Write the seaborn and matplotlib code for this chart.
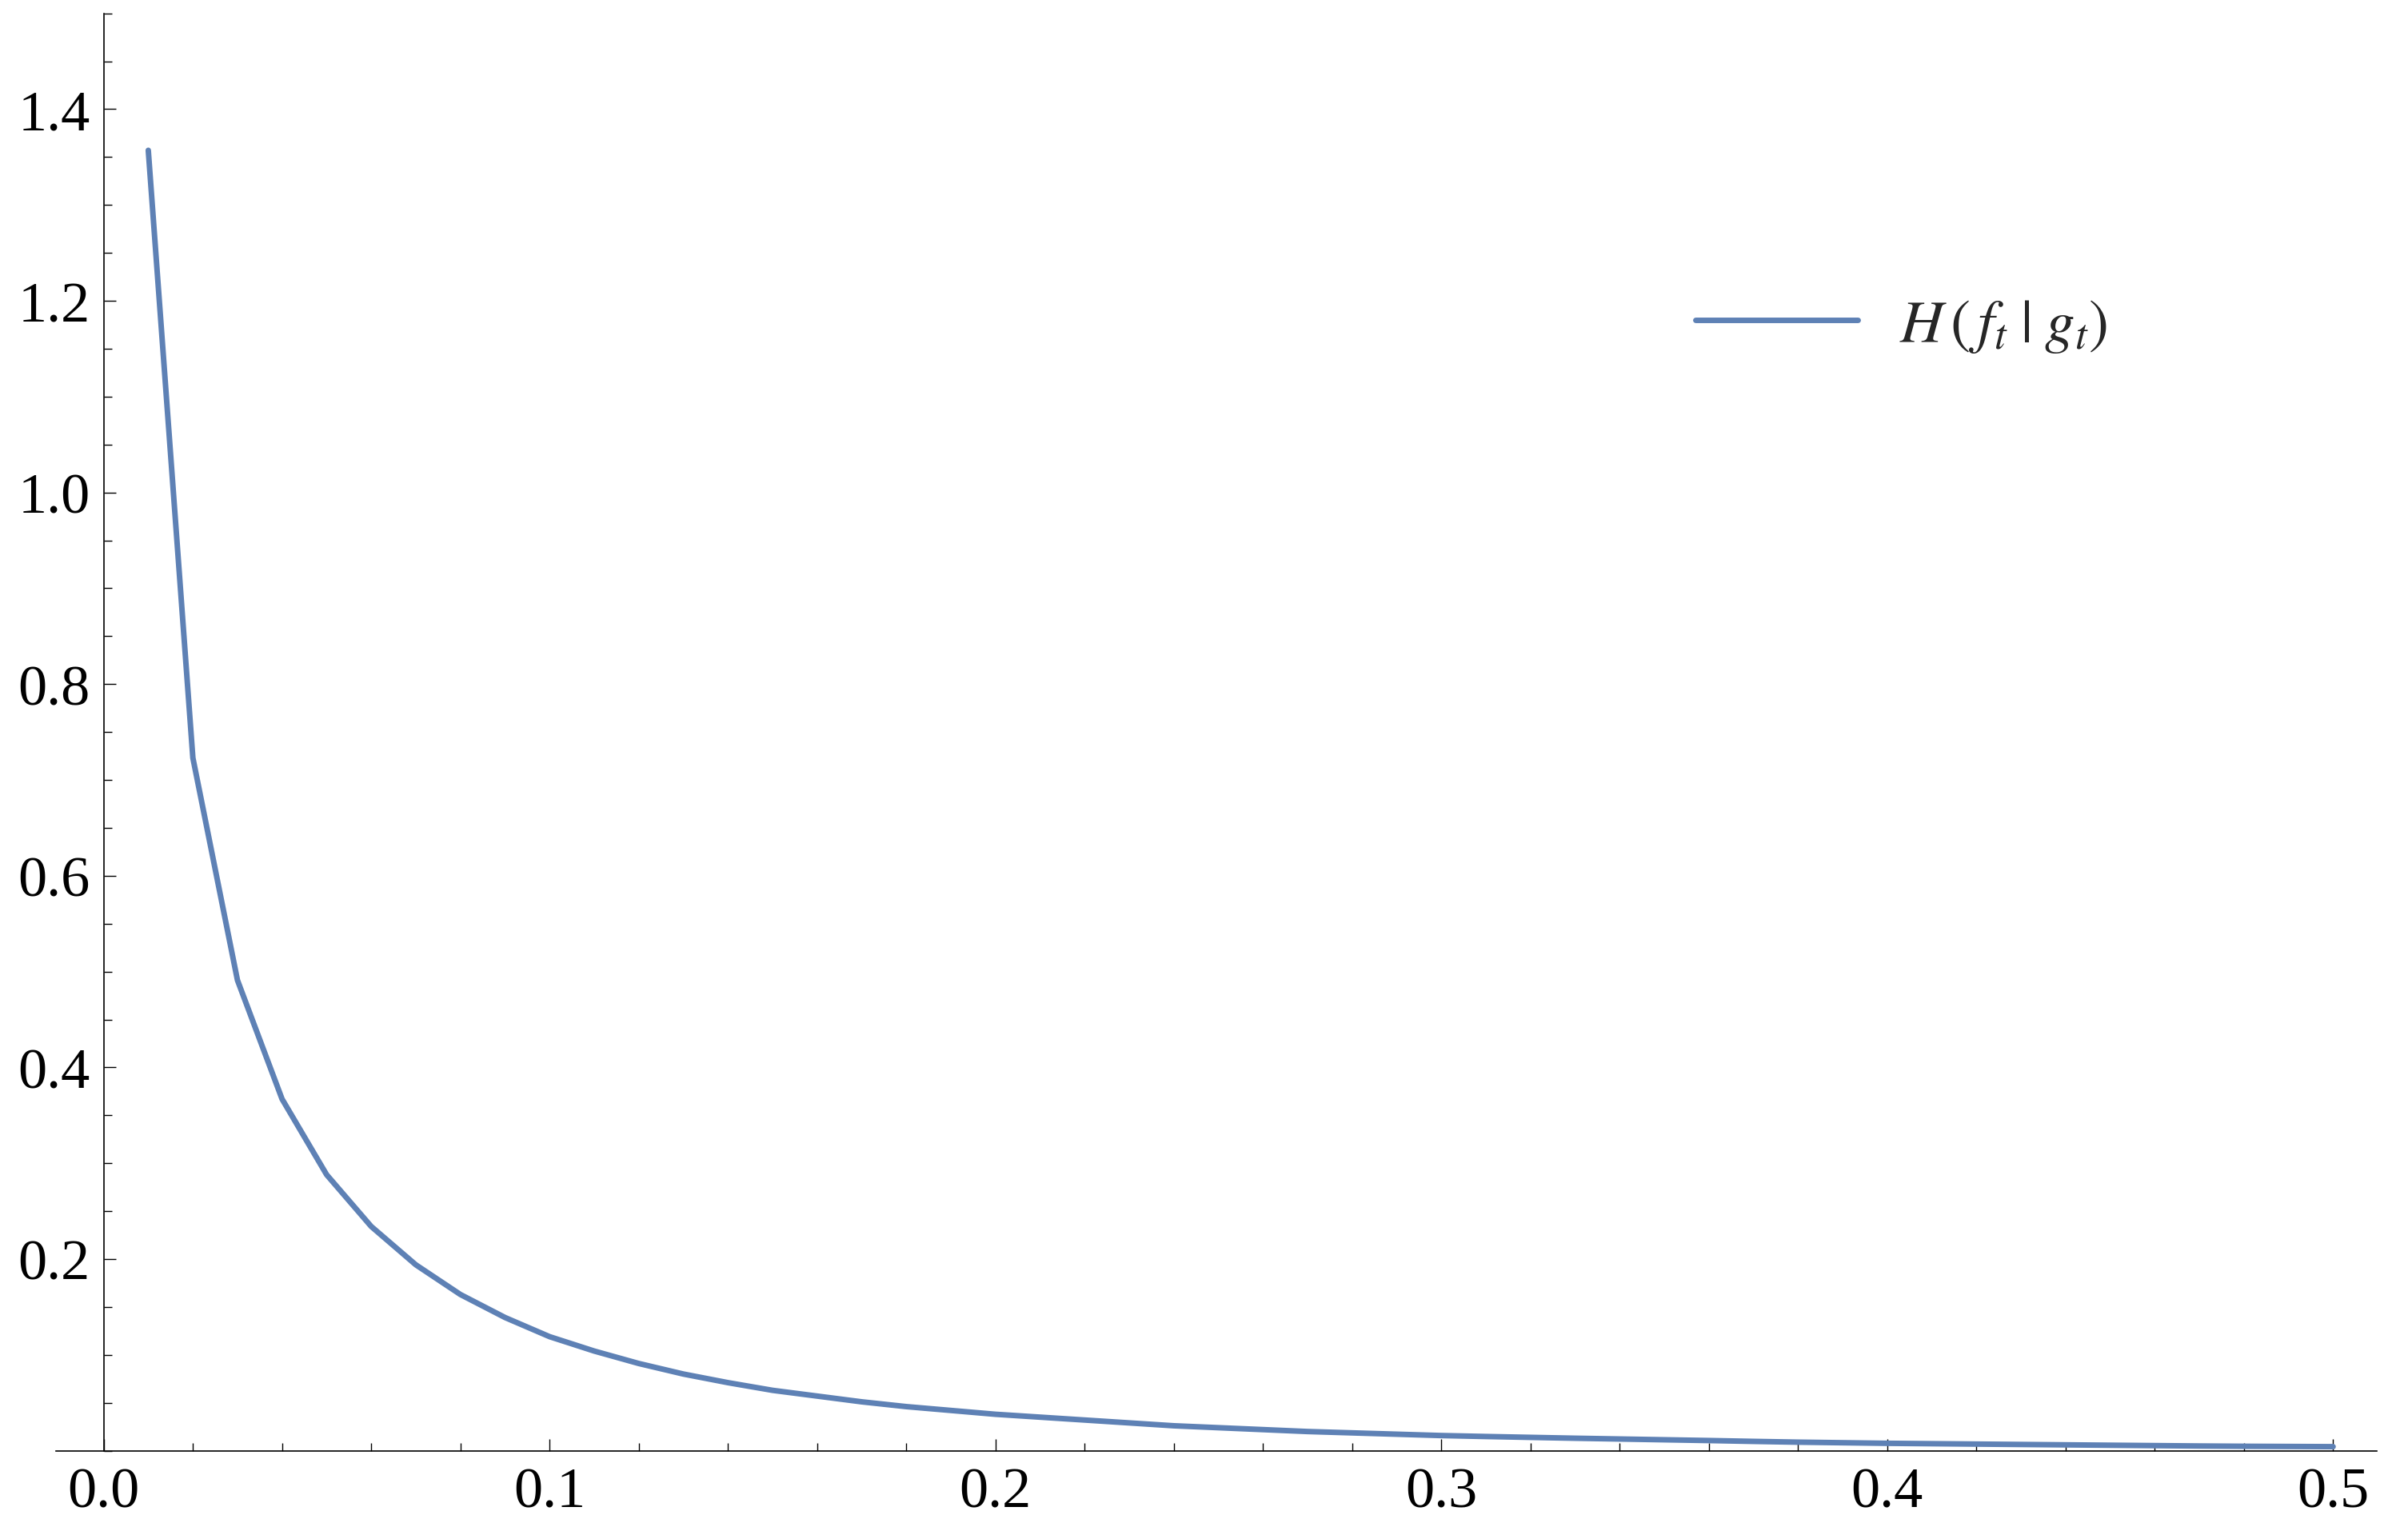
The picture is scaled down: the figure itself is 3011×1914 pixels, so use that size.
import numpy as np
import matplotlib
matplotlib.use('Agg')
import matplotlib.pyplot as plt
from matplotlib.ticker import MultipleLocator, FixedLocator
import seaborn as sns

sns.set_style('white')
plt.rcParams['font.family'] = ['Liberation Serif', 'DejaVu Serif']
plt.rcParams['mathtext.fontset'] = 'stix'

# sample points (step 0.01) and values
t = [round(0.01 * i, 2) for i in range(1, 51)]
h_vals = [1.357, 0.723, 0.491, 0.367, 0.288, 0.234, 0.194, 0.163, 0.139, 0.119,
          0.104, 0.091, 0.080, 0.071, 0.063, 0.057, 0.051, 0.046, 0.042, 0.038,
          0.035, 0.032, 0.029, 0.026, 0.024, 0.022, 0.020, 0.0186, 0.0172, 0.0158,
          0.0148, 0.0139, 0.0130, 0.0122, 0.0114, 0.0106, 0.0097, 0.0089, 0.0083, 0.0077,
          0.0073, 0.0069, 0.0065, 0.0061, 0.0057, 0.0053, 0.0049, 0.0046, 0.0044, 0.0042]
x_ticks = [0.0, 0.1, 0.2, 0.3, 0.4, 0.5]
y_ticks = [0.2, 0.4, 0.6, 0.8, 1.0, 1.2, 1.4]
label = r'$H\,\left(\,f_t\;|\;g_t\right)$'

W, H = 3011, 1915
fig = plt.figure(figsize=(W / 100, H / 100), dpi=100)
ax = fig.add_axes([70 / W, (H - 1814.6) / H, (2972 - 70) / W, (1814.6 - 17.6) / H])

sns.lineplot(x=t, y=h_vals, ax=ax, color='#5E81B5', lw=5.0, label=label)

ax.set_xlim(-0.0107, 0.5098)
ax.set_ylim(0, 1.5)

for s in ['top', 'right']:
    ax.spines[s].set_visible(False)
ax.spines['left'].set_position(('data', 0))
for s in ['left', 'bottom']:
    ax.spines[s].set_color('black')
    ax.spines[s].set_linewidth(1.2)

ax.xaxis.set_major_locator(FixedLocator(x_ticks))
ax.yaxis.set_major_locator(FixedLocator(y_ticks))
ax.xaxis.set_minor_locator(MultipleLocator(0.02))
ax.yaxis.set_minor_locator(MultipleLocator(0.05))
ax.set_xticklabels(['%.1f' % v for v in x_ticks])
ax.set_yticklabels(['%.1f' % v for v in y_ticks])

ax.tick_params(which='both', bottom=True, left=True, direction='in',
               color='black', width=1.0)
ax.tick_params(which='major', length=11, labelsize=52, labelcolor='black')
ax.tick_params(which='minor', length=7)
ax.tick_params(axis='x', which='major', pad=14)
ax.tick_params(axis='y', which='major', pad=12)
ax.set_xlabel('')
ax.set_ylabel('')

ax.legend(loc='center left', bbox_to_anchor=(2120 / W, 1 - 409 / H),
          bbox_transform=fig.transFigure, frameon=False, fontsize=54,
          handlelength=2.7, handletextpad=0.7, borderpad=0, borderaxespad=0)

fig.savefig('out.png', dpi=100, facecolor='white')
